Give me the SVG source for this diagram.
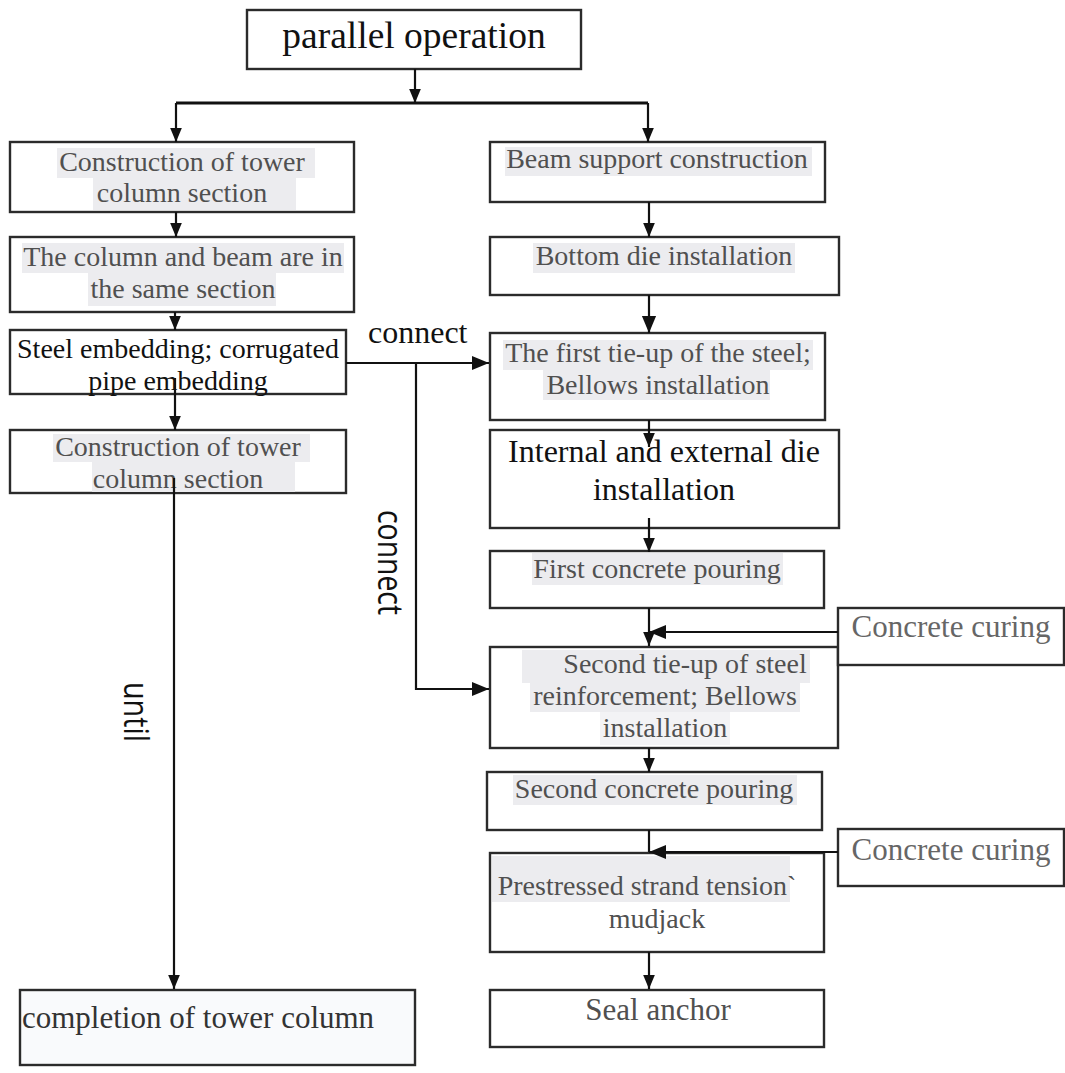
<svg xmlns="http://www.w3.org/2000/svg" width="1065" height="1073" viewBox="0 0 1065 1073">
<style>
.box{fill:#fff;stroke:#2b2b2b;stroke-width:2.4}
.t{font-family:"Liberation Serif","Times New Roman",serif;font-size:28px;fill:#505050;text-anchor:middle}
.k{fill:#111}
.hl{fill:#ececef}
.ln{fill:none;stroke:#111;stroke-width:2.2}
.v{font-family:"Open Sans","DejaVu Sans",sans-serif;font-size:34px;fill:#111}
</style>
<defs>
<marker id="ah" markerUnits="userSpaceOnUse" viewBox="0 0 12 10" markerWidth="14" markerHeight="12" refX="12" refY="5" orient="auto"><path d="M0,0L12,5L0,10z" fill="#111"/></marker>
<marker id="ahL" markerUnits="userSpaceOnUse" viewBox="0 0 12 10" markerWidth="17" markerHeight="16" refX="12" refY="5" orient="auto"><path d="M0,0L12,5L0,10z" fill="#111"/></marker>
</defs>
<rect width="1065" height="1073" fill="#fff"/>

<g id="n-parallel">
<rect class="box" x="247" y="10" width="334" height="59"/>
<text class="t k" x="414" y="48" style="font-size:37.5px">parallel operation</text>
</g>

<g id="n-tower1">
<rect class="box" x="10" y="142" width="344" height="70"/>
<rect class="hl" x="57" y="148" width="258" height="30"/>
<rect class="hl" x="93" y="178" width="203" height="32"/>
<text class="t" x="182" y="171">Construction of tower</text>
<text class="t" x="182" y="202">column section</text>
</g>

<g id="n-same">
<rect class="box" x="10" y="237" width="344" height="75"/>
<rect class="hl" x="22" y="243" width="322" height="30"/>
<rect class="hl" x="88" y="273" width="188" height="33"/>
<text class="t" x="183" y="266">The column and beam are in</text>
<text class="t" x="183" y="298">the same section</text>
</g>

<g id="n-steel">
<rect class="box" x="10" y="330" width="336" height="64"/>
<text class="t k" x="178" y="358">Steel embedding; corrugated</text>
<text class="t k" x="178" y="390">pipe embedding</text>
</g>

<g id="n-tower2">
<rect class="box" x="10" y="430" width="336" height="63"/>
<rect class="hl" x="53" y="434" width="257" height="28"/>
<rect class="hl" x="92" y="462" width="203" height="30"/>
<text class="t" x="178" y="456">Construction of tower</text>
<text class="t" x="178" y="488">column section</text>
</g>

<g id="n-completion">
<rect class="box" x="20" y="990" width="395" height="75" style="fill:#f9fafc"/>
<text class="t" x="22" y="1028" style="font-size:31px;text-anchor:start;fill:#333">completion of tower column</text>
</g>

<g id="n-beam">
<rect class="box" x="490" y="142" width="335" height="60"/>
<rect class="hl" x="505" y="147" width="307" height="29"/>
<text class="t" x="657" y="168">Beam support construction</text>
</g>

<g id="n-bottom">
<rect class="box" x="490" y="237" width="349" height="58"/>
<rect class="hl" x="533" y="243" width="262" height="30"/>
<text class="t" x="664" y="265">Bottom die installation</text>
</g>

<g id="n-first-tie">
<rect class="box" x="490" y="333" width="335" height="87"/>
<rect class="hl" x="503" y="340" width="310" height="30"/>
<rect class="hl" x="543" y="370" width="227" height="30"/>
<text class="t" x="658" y="362">The first tie-up of the steel;</text>
<text class="t" x="658" y="394">Bellows installation</text>
</g>

<g id="n-internal">
<rect class="box" x="490" y="430" width="349" height="98"/>
<text class="t k" x="664" y="462" style="font-size:32px">Internal and external die</text>
<text class="t k" x="664" y="500" style="font-size:32px">installation</text>
</g>

<g id="n-first-pour">
<rect class="box" x="490" y="551" width="334" height="57"/>
<rect class="hl" x="532" y="553" width="251" height="32"/>
<text class="t" x="657" y="578">First concrete pouring</text>
</g>

<g id="n-second-tie">
<rect class="box" x="490" y="647" width="348" height="101"/>
<rect class="hl" x="522" y="650" width="288" height="33"/>
<rect class="hl" x="530" y="683" width="270" height="29"/>
<rect class="hl" x="600" y="712" width="130" height="33" style="fill:#f3f3f5"/>
<text class="t" x="685" y="673">Second tie-up of steel</text>
<text class="t" x="665" y="705">reinforcement; Bellows</text>
<text class="t" x="665" y="737">installation</text>
</g>

<g id="n-second-pour">
<rect class="box" x="487" y="772" width="335" height="58"/>
<rect class="hl" x="513" y="775" width="284" height="30"/>
<text class="t" x="654" y="798">Second concrete pouring</text>
</g>

<g id="n-prestress">
<rect class="box" x="490" y="853" width="334" height="99"/>
<rect class="hl" x="492" y="856" width="298" height="46"/>
<text class="t" x="647" y="895">Prestressed strand tension`</text>
<text class="t" x="657" y="928">mudjack</text>
</g>

<g id="n-seal">
<rect class="box" x="490" y="990" width="334" height="57"/>
<text class="t" x="658" y="1020" style="font-size:31px">Seal anchor</text>
</g>

<g id="n-curing1">
<rect class="box" x="838" y="608" width="226" height="57"/>
<text class="t" x="951" y="637" style="font-size:31px;fill:#666">Concrete curing</text>
</g>

<g id="n-curing2">
<rect class="box" x="838" y="829" width="226" height="57"/>
<text class="t" x="951" y="860" style="font-size:31px;fill:#666">Concrete curing</text>
</g>

<g id="connectors">
<path class="ln" d="M415,69V103" marker-end="url(#ah)"/>
<path class="ln" d="M176,103H648" style="stroke-width:3"/>
<path class="ln" d="M176,103V142" marker-end="url(#ah)"/>
<path class="ln" d="M648,103V142" marker-end="url(#ah)"/>
<path class="ln" d="M176,212V237" marker-end="url(#ah)"/>
<path class="ln" d="M175,312V330" marker-end="url(#ah)"/>
<path class="ln" d="M175,378V430" marker-end="url(#ah)"/>
<path class="ln" d="M174,478V989" marker-end="url(#ah)"/>
<path class="ln" d="M346,363H489" marker-end="url(#ahL)"/>
<path class="ln" d="M416,363V689H489" marker-end="url(#ahL)"/>
<path class="ln" d="M649,202V237" marker-end="url(#ah)"/>
<path class="ln" d="M649,295V333" marker-end="url(#ahL)"/>
<path class="ln" d="M649,420V447" marker-end="url(#ah)"/>
<path class="ln" d="M649,518V552" marker-end="url(#ah)"/>
<path class="ln" d="M649,608V646" marker-end="url(#ah)"/>
<path class="ln" d="M838,632H649" marker-end="url(#ahL)"/>
<path class="ln" d="M649,748V772" marker-end="url(#ah)"/>
<path class="ln" d="M649,830V852"/>
<path class="ln" d="M838,852H649" marker-end="url(#ahL)"/>
<path class="ln" d="M649,952V989" marker-end="url(#ah)"/>
<text class="t k" x="368" y="343" style="font-size:32px;text-anchor:start">connect</text>
<text class="v" transform="translate(378,510) rotate(90)" textLength="105" lengthAdjust="spacingAndGlyphs">connect</text>
<text class="v" transform="translate(124,682) rotate(90)" textLength="60" lengthAdjust="spacingAndGlyphs">until</text>
</g>
</svg>
